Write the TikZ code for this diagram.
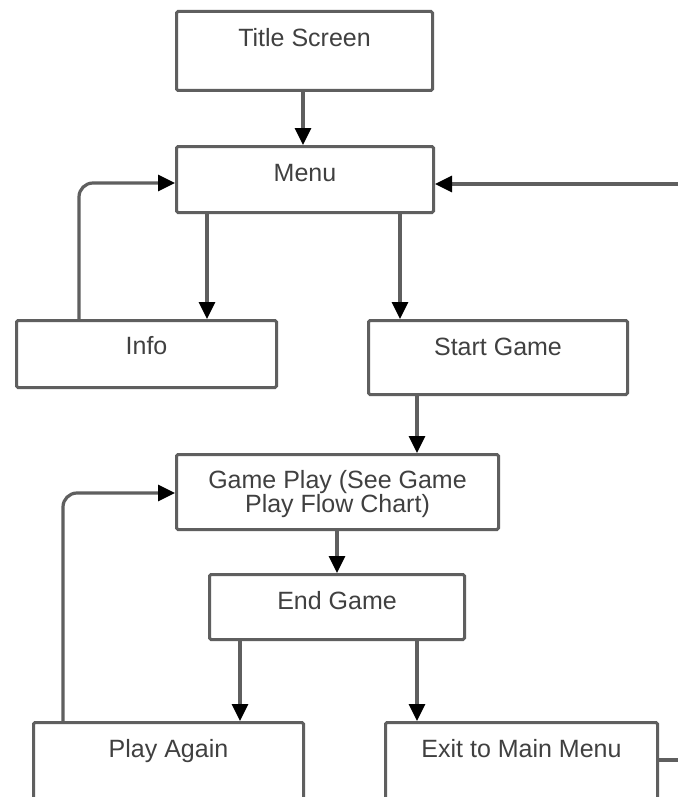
\documentclass[tikz,border=0pt]{standalone}
\usepackage{fontspec}
\setmainfont{Liberation Sans}
\usetikzlibrary{arrows.meta}
\definecolor{txt}{HTML}{404040}
\definecolor{edge}{HTML}{5F5F5F}
\tikzset{
  box/.style n args={3}{draw=edge, line width=3pt, rounded corners=1.5pt, inner sep=0pt,
    anchor=north west, minimum width=#1, text height=#2, text depth=#3,
    text=txt, align=center, font=\fontsize{25}{24}\selectfont},
  conn/.style={draw=edge, line width=3.2pt},
  arr/.style={conn, -{Triangle[length=17pt,width=16pt,color=black]}},
}
\begin{document}
\begin{tikzpicture}[x=1pt,y=-1pt]
\useasboundingbox (0,0) rectangle (678,797);
\clip (0,0) rectangle (678,797);
\fill[white] (0,0) rectangle (678,797);

\node[box={256pt}{35pt}{44pt}] (title) at (175,10) {Title Screen};
\node[box={257pt}{35pt}{31pt}] (menu) at (175,145) {Menu};
\node[box={260pt}{33.5pt}{33.5pt}] (info) at (15,319) {Info};
\node[box={259pt}{35pt}{39pt}] (start) at (367,319) {Start Game};
\node[box={322pt}{58pt}{17pt}] (play) at (175,453) {Game Play (See Game\\Play Flow Chart)};
\node[box={255pt}{35pt}{30pt}] (end) at (208,573) {End Game};
\node[box={270pt}{35pt}{90pt}] (again) at (32,721) {Play Again};
\node[box={272pt}{35pt}{90pt}] (exit) at (384,721) {Exit to Main Menu};

\coordinate (rin) at (678,184);
\coordinate (rout) at (678,760);

\draw[arr] (title.south -| 303,0) -- (menu.north -| 303,0);
\draw[arr] (menu.south -| 207,0) -- (info.north -| 207,0);
\draw[arr] (menu.south -| 400,0) -- (start.north -| 400,0);
\draw[arr, rounded corners=14pt] (info.north -| 79,0) -- (79,183) -- (menu.west |- 0,183);
\draw[arr] (rin) -- (rin -| menu.east);
\draw[arr] (start.south -| 417,0) -- (play.north -| 417,0);
\draw[arr] (play.south -| 337,0) -- (end.north -| 337,0);
\draw[arr] (end.south -| 240,0) -- (again.north -| 240,0);
\draw[arr] (end.south -| 417,0) -- (exit.north -| 417,0);
\draw[arr, rounded corners=14pt] (again.north -| 63,0) -- (63,493) -- (play.west |- 0,493);
\draw[conn] (rout -| exit.east) -- (rout);
\end{tikzpicture}
\end{document}
